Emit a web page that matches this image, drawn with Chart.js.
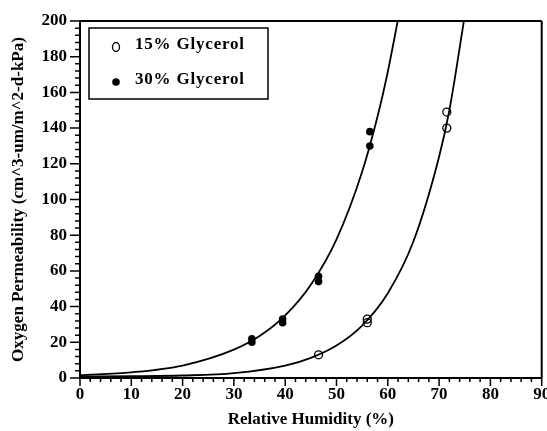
<!DOCTYPE html>
<html>
<head>
<meta charset="utf-8">
<script src="https://cdn.jsdelivr.net/npm/chart.js@4.4.1/dist/chart.umd.min.js"></script>
<style>
  html, body { margin: 0; padding: 0; background: #fff; }
  #wrap { width: 547px; height: 431px; }
</style>
</head>
<body>
<div id="wrap"><canvas id="myChart" width="547" height="431"></canvas></div>
<script>
// measured points
const rh15 = [46.5, 56, 56, 71.5, 71.5];
const op15 = [13, 31, 33, 140, 149];
const rh30 = [33.5, 33.5, 39.5, 39.5, 46.5, 46.5, 56.5, 56.5];
const op30 = [20, 22, 31, 33, 54, 57, 130, 138];

// fitted curves
const fitRh15 = [0, 10, 20, 30, 40, 45, 50, 55, 60, 65, 70, 72, 75];
const fitOp15 = [0.8, 1.0, 1.4, 2.7, 6.9, 11.3, 18.2, 29.4, 47.5, 76.6, 124, 150, 203];
const fitRh30 = [0, 10, 20, 30, 35, 40, 45, 50, 55, 58, 60, 62];
const fitOp30 = [1.6, 3.2, 7.0, 15.9, 23.5, 35.1, 52.3, 77.7, 115.6, 146.5, 171.6, 201];

const xTicks = [0, 10, 20, 30, 40, 50, 60, 70, 80, 90];
const yTicks = [0, 20, 40, 60, 80, 100, 120, 140, 160, 180, 200];

const labels = ['15% Glycerol', '30% Glycerol'];
const font = 'Liberation Serif';

function pts(xs, ys) {
    return xs.map((x, i) => ({ x: x, y: ys[i] }));
}

// frame, minor/major ticks and the boxed legend
const decor = {
    id: 'decor',
    afterDraw(chart) {
        const ctx = chart.ctx;
        const a = chart.chartArea;
        const xs = chart.scales.x, ys = chart.scales.y;
        ctx.save();
        ctx.strokeStyle = '#000';
        ctx.lineWidth = 2;
        ctx.beginPath();
        ctx.moveTo(a.left, a.top); ctx.lineTo(a.right, a.top);
        ctx.moveTo(a.right, a.top); ctx.lineTo(a.right, a.bottom);
        ctx.stroke();

        ctx.lineWidth = 1.5;
        ctx.beginPath();
        for (let v = 0; v <= 90; v += 2) {
            const px = xs.getPixelForValue(v);
            const len = v % 10 === 0 ? 8 : 4;
            ctx.moveTo(px, a.bottom); ctx.lineTo(px, a.bottom + len);
        }
        for (let v = 0; v <= 200; v += 4) {
            const py = ys.getPixelForValue(v);
            const len = v % 20 === 0 ? 10 : 5;
            ctx.moveTo(a.left, py); ctx.lineTo(a.left - len, py);
        }
        ctx.stroke();

        // legend
        const bx = 89, by = 28, bw = 179, bh = 71;
        ctx.lineWidth = 1.5;
        ctx.strokeRect(bx, by, bw, bh);
        ctx.font = 'bold 17px "' + font + '"';
        ctx.letterSpacing = '0.8px';
        ctx.fillStyle = '#000';
        ctx.textBaseline = 'middle';
        ctx.fillText(labels[0], 135, 45);
        ctx.fillText(labels[1], 135, 80);
        ctx.beginPath();
        ctx.ellipse(116, 47, 3.5, 4.5, 0, 0, Math.PI * 2);
        ctx.lineWidth = 1.3;
        ctx.stroke();
        ctx.beginPath();
        ctx.arc(116, 82, 3.8, 0, Math.PI * 2);
        ctx.fill();
        ctx.restore();
    }
};

const config = {
    type: 'scatter',
    data: {
        datasets: [
            {
                label: labels[0],
                data: pts(rh15, op15),
                pointStyle: 'circle',
                pointRadius: 4,
                pointBorderWidth: 1.3,
                borderColor: '#000',
                backgroundColor: 'rgba(255,255,255,0)'
            },
            {
                label: labels[1],
                data: pts(rh30, op30),
                pointStyle: 'circle',
                pointRadius: 3.8,
                pointBorderWidth: 0,
                borderColor: '#000',
                backgroundColor: '#000'
            },
            {
                label: 'fit 15',
                data: pts(fitRh15, fitOp15),
                showLine: true,
                pointRadius: 0,
                borderWidth: 1.8,
                borderColor: '#000',
                cubicInterpolationMode: 'monotone'
            },
            {
                label: 'fit 30',
                data: pts(fitRh30, fitOp30),
                showLine: true,
                pointRadius: 0,
                borderWidth: 1.8,
                borderColor: '#000',
                cubicInterpolationMode: 'monotone'
            }
        ]
    },
    options: {
        responsive: false,
        devicePixelRatio: 1,
        animation: false,
        layout: { padding: { top: 21, right: 4, left: 0, bottom: 0 } },
        plugins: {
            legend: { display: false },
            tooltip: { enabled: false }
        },
        scales: {
            x: {
                type: 'linear',
                min: 0, max: 90,
                afterBuildTicks: s => { s.ticks = xTicks.map(v => ({ value: v })); },
                afterFit: s => { s.height = 53; s.paddingLeft = 0; s.paddingRight = 0; },
                grid: { display: false },
                border: { display: true, color: '#000', width: 2 },
                ticks: {
                    color: '#000',
                    padding: -2,
                    maxRotation: 0,
                    font: { family: font, size: 17, weight: 'bold' }
                },
                title: {
                    display: true,
                    text: 'Relative Humidity (%)',
                    color: '#000',
                    padding: { top: 0, bottom: 1 },
                    font: { family: font, size: 17, weight: 'bold' }
                }
            },
            y: {
                type: 'linear',
                min: 0, max: 200,
                afterBuildTicks: s => { s.ticks = yTicks.map(v => ({ value: v })); },
                afterFit: s => { s.width = 80; },
                grid: { display: false },
                border: { display: true, color: '#000', width: 2 },
                ticks: {
                    color: '#000',
                    padding: 5,
                    font: { family: font, size: 17, weight: 'bold' }
                },
                title: {
                    display: true,
                    text: 'Oxygen Permeability (cm^3-um/m^2-d-kPa)',
                    color: '#000',
                    padding: { top: 8, bottom: 0 },
                    font: { family: font, size: 17, weight: 'bold' }
                }
            }
        }
    },
    plugins: [decor]
};

const myChart = new Chart(document.getElementById('myChart'), config);
</script>
</body>
</html>
